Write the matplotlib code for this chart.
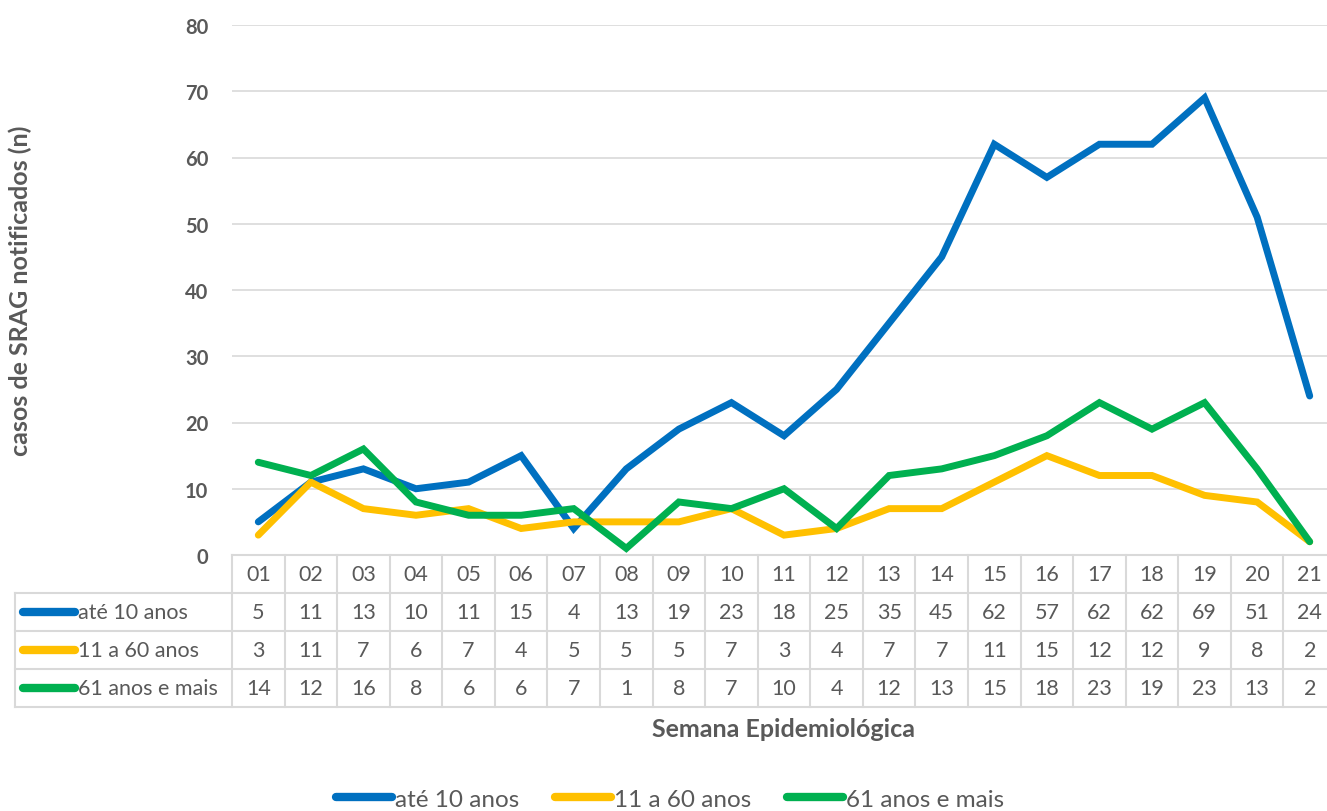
import matplotlib.pyplot as plt
from matplotlib.lines import Line2D

weeks = ['01', '02', '03', '04', '05', '06', '07', '08', '09', '10', '11',
         '12', '13', '14', '15', '16', '17', '18', '19', '20', '21']
ate_10 = [5, 11, 13, 10, 11, 15, 4, 13, 19, 23, 18, 25, 35, 45, 62, 57, 62, 62, 69, 51, 24]
de_11_60 = [3, 11, 7, 6, 7, 4, 5, 5, 5, 7, 3, 4, 7, 7, 11, 15, 12, 12, 9, 8, 2]
de_61_mais = [14, 12, 16, 8, 6, 6, 7, 1, 8, 7, 10, 4, 12, 13, 15, 18, 23, 19, 23, 13, 2]

series_names = ['até 10 anos', '11 a 60 anos', '61 anos e mais']
series = [ate_10, de_11_60, de_61_mais]
colors = ['#0070C0', '#FFC000', '#00B050']

plt.rcParams['font.family'] = ['Lato', 'DejaVu Sans']
text_color = '#595959'
grid_color = '#D9D9D9'
fs_table = 15.5
fs_bold = 18
fs_legend = 17.5

W, H = 1327, 812
fig = plt.figure(figsize=(W / 100, H / 100), dpi=100)

# pixel layout of the plot area (x beyond right edge, as in the original)
left_px, right_px = 232, 1336
top_px, zero_px = 26, 556
table_bottom_px = 708

ax = fig.add_axes([left_px / W, (H - zero_px) / H,
                   (right_px - left_px) / W, (zero_px - top_px) / H])
x = list(range(len(weeks)))
for vals, c in zip(series, colors):
    ax.plot(x, vals, color=c, lw=5, solid_capstyle='round', solid_joinstyle='miter', zorder=3)

ax.set_xlim(-0.5, len(weeks) - 0.5)
ax.set_ylim(0, 80)
ax.set_yticks(range(0, 81, 10))
ax.yaxis.grid(True, color=grid_color, lw=1.2)
ax.set_axisbelow(True)
ax.set_xticks([])
ax.tick_params(axis='y', length=0, pad=17, labelsize=14.5, labelcolor=text_color)
for lab in ax.get_yticklabels():
    lab.set_fontweight('bold')
for s in ax.spines.values():
    s.set_visible(False)

# data table below the chart
tax = fig.add_axes([left_px / W, (H - table_bottom_px) / H,
                    (right_px - left_px) / W, (table_bottom_px - zero_px) / H])
n = len(weeks)
tax.set_xlim(-0.5, n - 0.5)
tax.set_ylim(4, 0)
tax.axis('off')
col_w_px = (right_px - left_px) / n
label_left = -0.5 - (left_px - 15) / col_w_px

lkw = dict(color=grid_color, lw=1.5, clip_on=False)
# horizontal lines
tax.plot([-0.5, n - 0.5], [0, 0], **lkw)
for r in (1, 2, 3, 4):
    tax.plot([label_left, n - 0.5], [r, r], **lkw)
# vertical lines
for c in range(n + 1):
    tax.plot([c - 0.5, c - 0.5], [0, 4], **lkw)
tax.plot([label_left, label_left], [1, 4], **lkw)

tkw = dict(ha='center', va='center', fontsize=fs_table, color=text_color)
for i, w in enumerate(weeks):
    tax.text(i, 0.5, w, **tkw)
for r, (vals, name, c) in enumerate(zip(series, series_names, colors), start=1):
    for i, v in enumerate(vals):
        tax.text(i, r + 0.5, str(v), **tkw)
    x0 = label_left + 8 / col_w_px
    x1 = label_left + 60 / col_w_px
    tax.plot([x0, x1], [r + 0.5, r + 0.5], color=c, lw=6, solid_capstyle='round', clip_on=False)
    tax.text(x1 + 3 / col_w_px, r + 0.5, name, ha='left', va='center',
             fontsize=fs_table, color=text_color)

fig.text(20 / W, 1 - 291 / H, 'casos de SRAG notificados (n)', rotation=90,
         ha='center', va='center', fontsize=fs_bold, fontweight='bold', color=text_color)
fig.text(784 / W, 1 - 730 / H, 'Semana Epidemiológica', ha='center', va='center',
         fontsize=fs_bold, fontweight='bold', color=text_color)

handles = [Line2D([], [], color=c, lw=6, solid_capstyle='round') for c in colors]
fig.legend(handles, series_names, loc='center', bbox_to_anchor=(670 / W, 1 - 800 / H),
           ncol=3, frameon=False, fontsize=fs_legend, labelcolor=text_color,
           handlelength=2.3, handletextpad=0.1, columnspacing=1.5)

fig.savefig('out.png', dpi=100)
